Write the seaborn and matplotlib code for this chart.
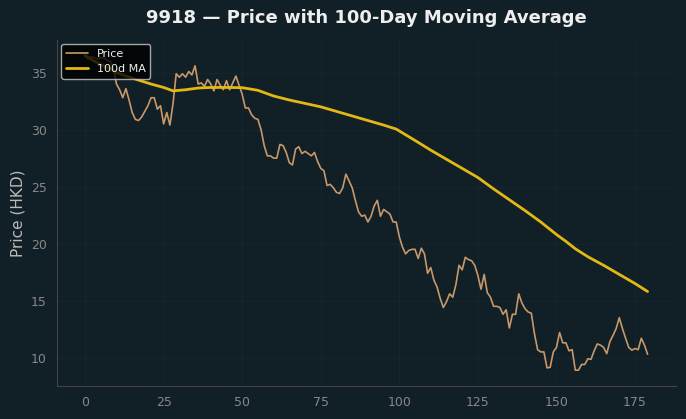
import numpy as np
import pandas as pd
import matplotlib
matplotlib.use("Agg")
import matplotlib.pyplot as plt
import seaborn as sns

# Daily closing prices (HKD), day 0..179
price = [
    36.5, 36.2, 36.4, 36.3, 36.2, 36.3, 36.3, 36.1, 36.0, 35.4,
    34.0, 33.5, 32.8, 33.6, 32.6, 31.5, 30.9, 30.8, 31.1, 31.6,
    32.1, 32.8, 32.8, 31.8, 32.1, 30.5, 31.5, 30.4, 32.3, 34.9,
    34.6, 34.9, 34.6, 35.1, 34.8, 35.6, 34.0, 34.1, 33.8, 34.4,
    34.0, 33.4, 34.4, 33.9, 33.5, 34.3, 33.5, 34.1, 34.7, 33.9,
    33.1, 31.9, 31.9, 31.3, 31.0, 30.9, 30.0, 28.6, 27.7, 27.7,
    27.5, 27.5, 28.7, 28.6, 28.0, 27.1, 26.9, 28.3, 28.5, 27.9,
    28.1, 27.9, 27.7, 28.0, 27.2, 26.6, 26.4, 25.1, 25.2, 24.9,
    24.5, 24.4, 24.9, 26.1, 25.5, 24.9, 23.8, 22.8, 22.4, 22.5,
    21.9, 22.4, 23.3, 23.8, 22.4, 23.0, 22.8, 22.6, 21.9, 21.9,
    20.6, 19.7, 19.1, 19.4, 19.5, 19.5, 18.7, 19.6, 19.1, 17.4,
    17.9, 16.8, 16.2, 15.2, 14.4, 14.9, 15.6, 15.3, 16.4, 18.1,
    17.7, 18.8, 18.6, 18.5, 18.1, 17.2, 16.0, 17.3, 15.7, 15.3,
    14.5, 14.5, 14.4, 13.8, 14.2, 12.6, 13.8, 13.8, 15.6, 14.8,
    14.3, 14.0, 13.9, 12.1, 10.7, 10.5, 10.5, 9.1, 9.15, 10.5,
    10.9, 12.2, 11.3, 11.3, 10.6, 10.7, 8.9, 8.9, 9.4, 9.4,
    9.9, 9.85, 10.6, 11.2, 11.1, 10.9, 10.35, 11.4, 11.95, 12.55,
    13.5, 12.55, 11.7, 10.9, 10.65, 10.8, 10.7, 11.7, 11.1, 10.3,
]
days = list(range(len(price)))

# 100-day moving average
ma_days = [0, 3, 6, 10, 13, 18, 21, 25, 28, 32, 36, 40, 45, 50, 55, 60, 65,
           70, 75, 80, 85, 90, 95, 99, 105, 110, 115, 120, 125, 130, 135,
           140, 145, 150, 153, 156, 160, 165, 170, 175, 179]
ma_values = [36.5, 36.0, 35.6, 35.0, 34.7, 34.26, 34.0, 33.7, 33.4, 33.5,
             33.65, 33.7, 33.7, 33.68, 33.45, 32.95, 32.6, 32.3, 32.0, 31.6,
             31.2, 30.8, 30.4, 30.05, 29.05, 28.2, 27.4, 26.6, 25.8, 24.8,
             23.85, 22.9, 21.9, 20.8, 20.2, 19.55, 18.85, 18.1, 17.3, 16.5, 15.8]

BG = "#111f26"
PRICE_C = "#c8986a"
MA_C = "#e2b814"

sns.set_theme(style="darkgrid")
plt.rcParams["font.family"] = ["DejaVu Sans"]

fig, ax = plt.subplots(figsize=(6.86, 4.19), dpi=100)
fig.patch.set_facecolor(BG)
ax.set_facecolor(BG)

price_df = pd.DataFrame({"day": days, "price": price})
ma_df = pd.DataFrame({"day": ma_days, "ma": ma_values})

sns.lineplot(data=price_df, x="day", y="price", ax=ax, color=PRICE_C,
             linewidth=1.2, label="Price")
sns.lineplot(data=ma_df, x="day", y="ma", ax=ax, color=MA_C,
             linewidth=2.0, label="100d MA")

ax.set_title("9918 \u2014 Price with 100-Day Moving Average", color="#eeeeee",
             fontsize=13, fontweight="bold", pad=12)
ax.set_xlabel("")
ax.set_ylabel("Price (HKD)", color="#bbbbbb", fontsize=11)
ax.tick_params(colors="#888888", labelsize=9, length=4, width=0.8)
ax.tick_params(axis="both", which="both", color="#666666")
ax.grid(True, color="#162730", linewidth=0.6)

for side in ["top", "right"]:
    ax.spines[side].set_visible(False)
for side in ["left", "bottom"]:
    ax.spines[side].set_visible(True)
    ax.spines[side].set_color("#444444")
    ax.spines[side].set_linewidth(0.8)

leg = ax.legend(loc="upper left", fontsize=8, facecolor="black",
                edgecolor="#cccccc", framealpha=0.8, labelcolor="#eeeeee",
                borderaxespad=0.4)

fig.subplots_adjust(left=0.083, right=0.985, bottom=0.079, top=0.905)
fig.savefig("out.png", dpi=100, facecolor=BG)
